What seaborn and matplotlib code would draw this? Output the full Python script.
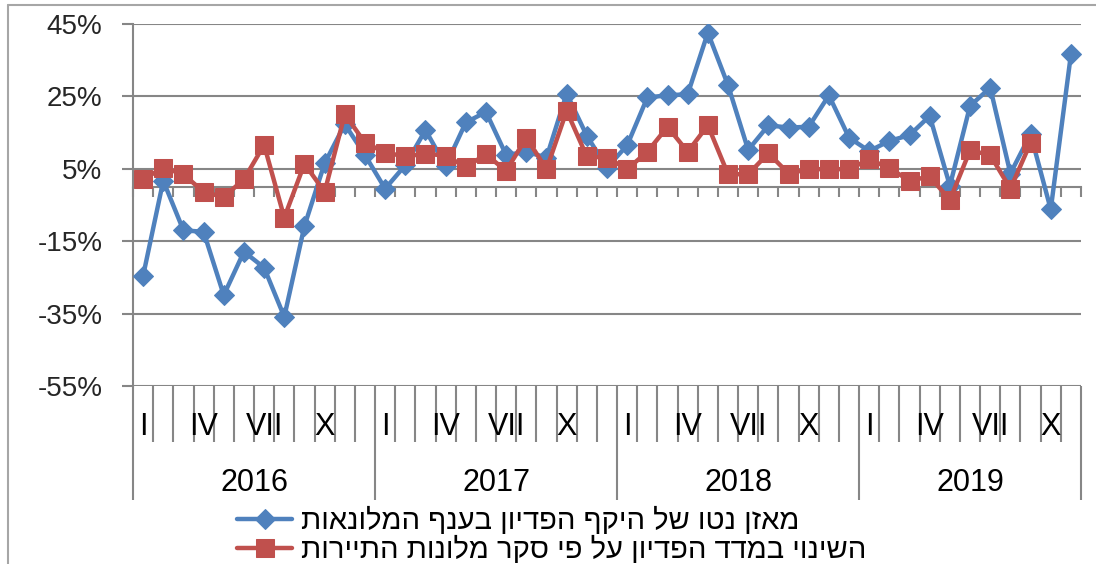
import numpy as np
import pandas as pd
import matplotlib
matplotlib.use("Agg")
import matplotlib.pyplot as plt
import seaborn as sns
from matplotlib.lines import Line2D

# ---------------- data ----------------
years = ["2016", "2017", "2018", "2019"]
months_per_year = [12, 12, 12, 11]
roman_labels = ["I", "", "", "IV", "", "", "VII", "", "", "X", "", ""]

blue_values = [-24.6, 1.7, -12.0, -12.4, -29.9, -17.9, -22.3, -35.9, -10.8, 6.5, 17.3, 8.8,
               -0.5, 6.0, 15.7, 5.8, 17.8, 20.7, 8.8, 9.7, 8.1, 25.8, 14.1, 5.3,
               11.5, 24.7, 25.3, 25.6, 42.6, 28.1, 10.2, 17.0, 16.4, 16.6, 25.3, 13.6,
               9.9, 12.7, 14.3, 19.6, 0.3, 22.4, 27.4, 3.7, 14.6, -6.2, 36.6]
red_values = [2.1, 5.3, 3.5, -1.4, -2.8, 2.1, 11.6, -8.5, 6.4, -1.4, 20.1, 12.2,
              9.5, 8.4, 9.2, 8.6, 5.5, 9.0, 4.4, 13.6, 4.9, 21.0, 8.4, 8.1,
              4.9, 9.7, 16.6, 9.7, 17.0, 3.5, 3.5, 9.3, 3.7, 4.9, 4.9, 4.9,
              7.6, 5.2, 1.7, 2.9, -3.6, 10.1, 8.8, -0.5, 12.2]

y_ticks = [-55, -35, -15, 5, 25, 45]
y_tick_labels = ["-55%", "-35%", "-15%", "5%", "25%", "45%"]

legend_labels = ["מאזן נטו של היקף הפדיון בענף המלונאות",
                 "השינוי במדד הפדיון על פי סקר מלונות התיירות"]

# ---------------- style ----------------
BLUE = "#4F81BD"
RED = "#C0504D"
GRID = "#868686"

sns.set_style("white")
plt.rcParams["font.family"] = ["Liberation Sans", "DejaVu Sans"]
plt.rcParams["text.color"] = "black"

W, H = 1096, 564
fig = plt.figure(figsize=(W / 100, H / 100), dpi=100)
ax = fig.add_axes([133 / W, 1 - 386 / H, (1081 - 133) / W, (386 - 24) / H])

n = sum(months_per_year)
df_blue = pd.DataFrame({"x": np.arange(len(blue_values)), "v": blue_values})
df_red = pd.DataFrame({"x": np.arange(len(red_values)), "v": red_values})

sns.lineplot(data=df_blue, x="x", y="v", ax=ax, color=BLUE, linewidth=3.2,
             marker="D", markersize=10.5, markeredgecolor=BLUE, legend=False, zorder=3)
line_blue = ax.lines[-1]
sns.lineplot(data=df_red, x="x", y="v", ax=ax, color=RED, linewidth=3.2,
             marker="s", markersize=13.5, markeredgecolor=RED, legend=False, zorder=4)
line_red = ax.lines[-1]

ax.set_xlim(-0.5, n - 0.5)
ax.set_ylim(-55, 45)
ax.set_xlabel("")
ax.set_ylabel("")
ax.set_yticks(y_ticks)
ax.set_yticklabels(y_tick_labels)
ax.yaxis.grid(True, color=GRID, linewidth=1.5)
ax.xaxis.grid(False)
ax.set_axisbelow(True)
ax.tick_params(axis="y", left=True, length=8, width=1.5, color=GRID, pad=14, labelsize=20)

for s in ["top", "right"]:
    ax.spines[s].set_visible(False)
ax.spines["left"].set_color(GRID)
ax.spines["left"].set_linewidth(1.5)
ax.spines["bottom"].set_position(("data", 0))
ax.spines["bottom"].set_color(GRID)
ax.spines["bottom"].set_linewidth(1.5)
ax.spines["bottom"].set_zorder(2)

ax.set_xticks(np.arange(n + 1) - 0.5)
ax.tick_params(axis="x", bottom=True, direction="out", length=7.5, width=1.5,
               color=GRID, labelbottom=False)

# multi-level category axis under the plot
trans = ax.get_xaxis_transform()
year_bounds = np.cumsum([0] + months_per_year)
short_x, long_x = [], []
for b in range(n + 1):
    (long_x if b in year_bounds else short_x).append(b - 0.5)
ax.vlines(short_x, -0.155, 0, transform=trans, colors=GRID, linewidth=1.5, clip_on=False)
ax.vlines(long_x, -0.315, 0, transform=trans, colors=GRID, linewidth=1.5, clip_on=False)

for yi, (yr, m) in enumerate(zip(years, months_per_year)):
    start = year_bounds[yi]
    for j in range(m):
        if roman_labels[j]:
            ax.text(start + j, -0.113, roman_labels[j], transform=trans,
                    ha="center", va="center", fontsize=22)
    ax.text(start + (m - 1) / 2, -0.268, yr, transform=trans,
            ha="center", va="center", fontsize=22)

# legend (Hebrew, visual order)
fig.legend(handles=[line_blue, line_red],
           labels=[lbl[::-1] for lbl in legend_labels],
           loc="upper left", bbox_to_anchor=(237 / W, 1 - 507 / H),
           frameon=False, fontsize=21, handlelength=1.9, handletextpad=0.3,
           labelspacing=0.02, borderpad=0, borderaxespad=0)

# outer chart frame (partially visible)
fig.add_artist(Line2D([8 / W, 8 / W], [0, 1 - 5 / H], transform=fig.transFigure,
                      color="#A6A6A6", linewidth=1.5))
fig.add_artist(Line2D([8 / W, 1], [1 - 5 / H, 1 - 5 / H], transform=fig.transFigure,
                      color="#A6A6A6", linewidth=1.5))

fig.savefig("out.png", dpi=100)
